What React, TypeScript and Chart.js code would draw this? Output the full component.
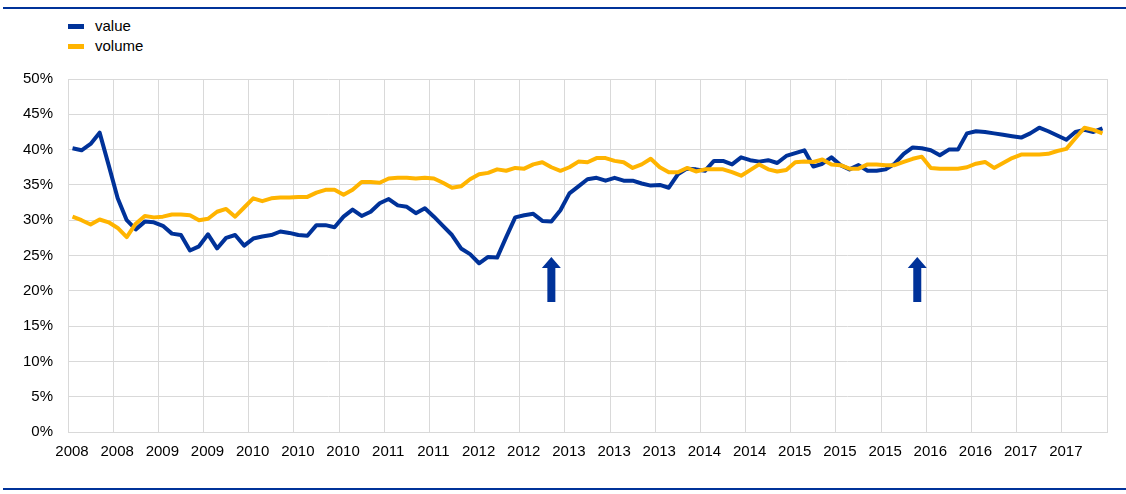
import React, { useEffect, useRef } from "react";
import { Chart, registerables } from "chart.js";

Chart.register(...registerables);

// Monthly observations, June 2008 .. December 2017
const START_YEAR = 2008;
const START_MONTH = 5; // June (0-based)

const valueSeries: number[] = [
  40.2, 39.9, 40.8, 42.4, 37.8, 33.1, 30.0, 28.7, 29.8, 29.7,
  29.2, 28.1, 27.9, 25.7, 26.3, 28.0, 26.0, 27.5, 27.9, 26.4,
  27.4, 27.7, 27.9, 28.4, 28.2, 27.9, 27.8, 29.3, 29.3, 29.0,
  30.5, 31.5, 30.6, 31.2, 32.4, 33.0, 32.1, 31.9, 31.0, 31.7,
  30.5, 29.2, 27.9, 26.0, 25.2, 23.9, 24.8, 24.7, 27.6, 30.4,
  30.7, 30.9, 29.9, 29.8, 31.4, 33.8, 34.8, 35.8, 36.0, 35.6,
  36.0, 35.6, 35.6, 35.2, 34.9, 35.0, 34.6, 36.5, 37.3, 37.2,
  37.0, 38.4, 38.4, 37.9, 38.9, 38.5, 38.3, 38.5, 38.1, 39.1,
  39.5, 39.9, 37.6, 38.0, 38.9, 37.8, 37.2, 37.8, 37.0, 37.0,
  37.2, 38.0, 39.4, 40.3, 40.2, 39.9, 39.2, 40.0, 40.0, 42.3,
  42.6, 42.5, 42.3, 42.1, 41.9, 41.7, 42.3, 43.1, 42.6, 42.0,
  41.4, 42.5, 42.8, 42.5, 43.0,
];

const volumeSeries: number[] = [
  30.5, 30.0, 29.4, 30.1, 29.7, 28.9, 27.6, 29.5, 30.6, 30.4,
  30.5, 30.8, 30.8, 30.7, 30.0, 30.2, 31.2, 31.6, 30.5, 31.8,
  33.1, 32.7, 33.1, 33.2, 33.2, 33.3, 33.3, 33.9, 34.3, 34.3,
  33.6, 34.3, 35.4, 35.4, 35.3, 35.9, 36.0, 36.0, 35.9, 36.0,
  35.9, 35.3, 34.6, 34.8, 35.8, 36.5, 36.7, 37.2, 37.0, 37.4,
  37.3, 37.9, 38.2, 37.5, 37.0, 37.5, 38.3, 38.2, 38.8, 38.8,
  38.4, 38.2, 37.4, 37.9, 38.7, 37.5, 36.8, 36.8, 37.4, 36.9,
  37.2, 37.2, 37.2, 36.8, 36.3, 37.1, 37.9, 37.2, 36.9, 37.1,
  38.2, 38.3, 38.25, 38.6, 37.9, 37.8, 37.3, 37.3, 37.9, 37.9,
  37.8, 37.8, 38.25, 38.7, 39.0, 37.4, 37.3, 37.3, 37.3, 37.5,
  38.0, 38.25, 37.4, 38.1, 38.8, 39.3, 39.3, 39.3, 39.4, 39.8,
  40.1, 41.6, 43.1, 42.8, 42.3,
];

const seriesNames = ["value", "volume"];
const seriesColors = ["#003299", "#FFB400"];

const yMin = 0;
const yMax = 50;
const yStep = 5;
const xStep = 5; // months between labelled grid lines

// Annotation arrows (x in months from June 2008, y in %)
const arrowX: number[] = [53.5, 94];
const arrowTop = 24.8;
const arrowBottom = 18.4;

const FONT = "'Liberation Sans', Arial, Helvetica, sans-serif";

const arrowPlugin = {
  id: "arrows",
  afterDatasetsDraw(chart: any) {
    const { ctx, scales } = chart;
    const xs = scales.x;
    const ys = scales.y;
    ctx.save();
    ctx.fillStyle = seriesColors[0];
    arrowX.forEach((ax) => {
      const cx = xs.getPixelForValue(ax);
      const top = ys.getPixelForValue(arrowTop);
      const bottom = ys.getPixelForValue(arrowBottom);
      const shaftHalf = 4;
      const headHalf = 9.5;
      const headH = 11;
      ctx.beginPath();
      ctx.moveTo(cx, top);
      ctx.lineTo(cx + headHalf, top + headH);
      ctx.lineTo(cx + shaftHalf, top + headH);
      ctx.lineTo(cx + shaftHalf, bottom);
      ctx.lineTo(cx - shaftHalf, bottom);
      ctx.lineTo(cx - shaftHalf, top + headH);
      ctx.lineTo(cx - headHalf, top + headH);
      ctx.closePath();
      ctx.fill();
    });
    ctx.restore();
  },
};

export default function App() {
  const canvasRef = useRef<HTMLCanvasElement | null>(null);

  useEffect(() => {
    const canvas = canvasRef.current;
    if (!canvas) return;
    const n = valueSeries.length;
    const chart = new Chart(canvas, {
      type: "line",
      data: {
        datasets: [
          {
            label: seriesNames[0],
            data: valueSeries.map((v, i) => ({ x: i + 0.5, y: v })),
            borderColor: seriesColors[0],
            backgroundColor: seriesColors[0],
            borderWidth: 4,
            pointRadius: 0,
            tension: 0,
            borderJoinStyle: "round",
            order: 1,
          },
          {
            label: seriesNames[1],
            data: volumeSeries.map((v, i) => ({ x: i + 0.5, y: v })),
            borderColor: seriesColors[1],
            backgroundColor: seriesColors[1],
            borderWidth: 4,
            pointRadius: 0,
            tension: 0,
            borderJoinStyle: "round",
            order: 0,
          },
        ],
      },
      options: {
        animation: false,
        responsive: false,
        devicePixelRatio: 1,
        layout: { padding: { top: 79, right: 19, left: 0, bottom: 0 } },
        plugins: {
          legend: { display: false },
          tooltip: { enabled: false },
        },
        scales: {
          x: {
            type: "linear",
            min: 0,
            max: n,
            grid: { color: "#d9d9d9", lineWidth: 1, drawTicks: false },
            border: { display: true, color: "#d9d9d9" },
            ticks: {
              stepSize: xStep,
              autoSkip: false,
              maxRotation: 0,
              padding: 11,
              labelOffset: 4,
              color: "#000",
              font: { family: FONT, size: 15 },
              callback: (v: any) => {
                const t = Number(v);
                if (t >= n) return "";
                return String(START_YEAR + Math.floor((START_MONTH + t) / 12));
              },
            },
            afterFit: (scale: any) => {
              scale.height = 62;
            },
          },
          y: {
            min: yMin,
            max: yMax,
            grid: { color: "#d9d9d9", lineWidth: 1, drawTicks: false },
            border: { display: true, color: "#d9d9d9" },
            ticks: {
              stepSize: yStep,
              padding: 15,
              color: "#000",
              font: { family: FONT, size: 15 },
              callback: (v: any) => `${v}%`,
            },
            afterFit: (scale: any) => {
              scale.width = 68;
            },
          },
        },
      },
      plugins: [arrowPlugin],
    });
    return () => chart.destroy();
  }, []);

  return (
    <div
      style={{
        position: "absolute",
        left: 0,
        top: 0,
        width: 1126,
        height: 494,
        background: "#fff",
        fontFamily: FONT,
      }}
    >
      <div style={{ position: "absolute", left: 3, right: 0, top: 7, height: 2, background: "#003299" }} />
      <div style={{ position: "absolute", left: 3, right: 0, top: 488, height: 2, background: "#003299" }} />
      {seriesNames.map((name, k) => (
        <div
          key={name}
          style={{
            position: "absolute",
            left: 68,
            top: 17 + k * 20,
            height: 18,
            display: "flex",
            alignItems: "center",
            fontSize: 15,
            color: "#000",
            lineHeight: "18px",
          }}
        >
          <span style={{ display: "inline-block", width: 16, height: 5, background: seriesColors[k], marginRight: 11 }} />
          <span>{name}</span>
        </div>
      ))}
      <canvas ref={canvasRef} width={1126} height={494} style={{ position: "absolute", left: 0, top: 0 }} />
    </div>
  );
}
